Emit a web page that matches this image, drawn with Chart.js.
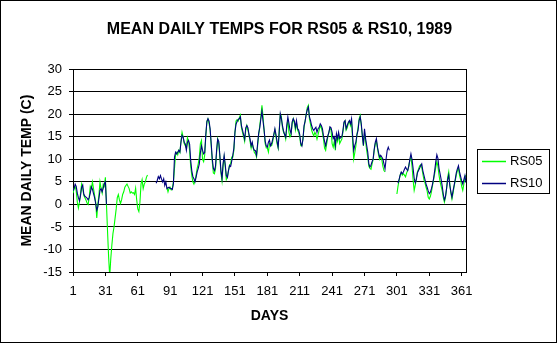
<!DOCTYPE html>
<html>
<head>
<meta charset="utf-8">
<script src="https://cdn.jsdelivr.net/npm/chart.js@4.4.1/dist/chart.umd.min.js"></script>
<style>
  html, body { margin: 0; padding: 0; background: #fff; }
  canvas { display: block; }
</style>
</head>
<body>
<canvas id="grafico-temps" width="559" height="345"></canvas>
<script>
const titulo = "MEAN DAILY TEMPS FOR RS05 & RS10, 1989";
const tituloY = "MEAN DAILY TEMP (C)";
const tituloX = "DAYS";
const ticksX = [1, 31, 61, 91, 121, 151, 181, 211, 241, 271, 301, 331, 361];

const dias = Array.from({ length: 365 }, (_, i) => i + 1);

// RS05, dias 1..365 (null = sem leitura)
const rs05 = [
    2.5, 3.5, 4.0, 3.0, 0.5, -0.8, 0.5, 2.5, 4.5, 3.5,
    2.0, 1.5, 1.0, 0.3, 0.0, 1.5, 4.0, 3.5, 5.0, 3.5,
    2.0, 0.5, -3.0, 0.0, 2.0, 5.0, 3.5, 2.5, 4.5, 4.0,
    6.0, 0.0, -6.0, -11.7, -16.0, -12.0, -9.0, -6.5, -5.0, -3.0,
    -1.0, 1.5, 2.2, 1.0, 0.2, 1.0, 2.2, 2.8, 3.8, 4.2,
    4.5, 4.0, 3.5, 2.5, 2.8, 2.5, 2.6, 2.2, 3.6, 1.0,
    -1.0, -1.6, 0.5, 4.5, 5.5, 3.5, 4.5, 5.0, 6.0, 6.5,
    null, null, null, null, null, null, null, null, null, null,
    null, null, null, null, null, null, null, 3.8, 2.8, 3.6,
    3.8, 3.2, 3.5, 5.0, 8.0, 11.0, 11.5, 11.0, 12.0, 11.5,
    14.0, 16.0, 15.0, 13.5, 13.0, 12.5, 14.8, 14.0, 12.0, 8.5,
    6.5, 5.0, 4.5, 5.2, 6.5, 8.0, 9.0, 10.5, 13.5, 14.2,
    10.0, 9.5, 11.0, 15.0, 18.5, 19.0, 18.0, 16.5, 13.0, 9.5,
    7.0, 6.8, 7.8, 11.5, 14.5, 13.5, 10.5, 7.0, 5.2, 8.5,
    10.5, 8.5, 5.5, 6.0, 7.5, 8.8, 9.0, 10.5, 10.5, 12.0,
    16.0, 18.5, 18.8, 18.5, 19.2, 19.8, 17.0, 16.0, 15.0, 14.0,
    16.5, 17.5, 16.5, 15.5, 14.0, 12.5, 13.5, 12.5, 11.5, 11.2,
    10.5, 13.0, 15.5, 17.5, 19.5, 22.0, 19.5, 16.5, 13.5, 12.5,
    12.5, 11.6, 13.5, 13.0, 13.0, 14.0, 15.5, 16.5, 15.0, 13.5,
    12.5, 16.5, 20.0, 19.5, 17.0, 16.0, 15.5, 14.5, 17.0, 19.0,
    16.0, 15.0, 15.5, 18.0, 19.0, 18.0, 16.5, 18.0, 16.5, 16.0,
    15.0, 13.0, 13.0, 14.5, 17.0, 18.5, 20.0, 21.5, 22.0, 19.0,
    17.8, 16.5, 15.8, 15.2, 16.0, 15.5, 14.5, 15.5, 16.5, 17.5,
    17.0, 16.0, 14.5, 12.5, 12.0, 13.5, 15.0, 16.0, 17.0, 16.5,
    13.5, 12.7, 14.0, 12.0, 15.0, 14.0, 15.5, 13.5, 14.0, 14.5,
    16.0, 18.0, 18.5, 16.5, 17.0, 18.0, 18.5, 17.5, 18.5, 14.0,
    10.1, 11.5, 13.0, 15.5, 17.0, 19.0, 19.7, 17.5, 15.0, 13.0,
    16.0, 14.0, 12.0, 10.5, 8.5, 8.0, 7.8, 9.0, 10.0, 12.0,
    13.5, 14.0, 12.5, 11.0, 10.0, 10.5, 10.0, 8.5, 7.5, 7.2,
    null, null, null, null, null, null, null, null, null, null,
    2.3, 4.0, 5.3, 6.5, 7.0, 6.5, 6.8, 6.5, 6.1, 7.0,
    7.5, 8.5, 9.8, 10.5, 8.5, 5.5, 3.1, 4.2, 5.8, 7.2,
    7.8, 8.5, 8.8, 8.2, 6.8, 5.5, 4.8, 3.8, 3.0, 1.6,
    1.2, 1.8, 2.8, 4.2, 5.5, 6.8, 8.2, 9.5, 8.5, 6.5,
    5.0, 4.0, 3.0, 1.5, 0.5, 1.5, 3.5, 6.0, 7.2, 4.5,
    2.5, 1.2, 2.5, 4.0, 5.2, 6.5, 7.5, 8.0, 6.5, 5.5,
    4.0, 3.1, 4.5, 6.0, 6.5
];

// RS10, dias 1..365 (null = sem leitura)
const rs10 = [
    3.0, 3.5, 4.5, 4.0, 2.5, 1.5, 0.8, 2.0, 3.8, 4.3,
    2.3, 1.8, 1.6, 1.4, 1.0, 1.5, 2.5, 3.9, 3.4, 2.4,
    1.5, 0.2, -1.3, -0.5, 1.3, 3.1, 3.5, 2.8, 3.6, 4.6,
    5.0, 0.0, null, null, null, null, null, null, null, null,
    null, null, null, null, null, null, null, null, null, null,
    null, null, null, null, null, null, null, null, null, null,
    null, null, null, null, null, null, null, null, null, null,
    null, null, null, null, null, null, null, 4.7, 5.3, 6.2,
    5.7, 6.4, 5.6, 5.0, 5.7, 4.2, 5.0, 3.5, 3.7, 3.8,
    3.5, 3.5, 3.3, 4.6, 10.5, 11.6, 11.2, 11.6, 12.0, 11.6,
    13.8, 15.3, 14.9, 13.8, 13.4, 12.0, 13.8, 14.2, 13.4, 9.8,
    7.5, 6.2, 5.7, 5.0, 6.0, 7.2, 8.0, 9.0, 11.5, 13.0,
    12.0, 11.2, 11.5, 15.5, 18.3, 19.0, 18.5, 16.8, 13.5, 10.1,
    8.0, 7.5, 8.5, 12.0, 14.5, 14.0, 11.0, 7.5, 5.8, 9.0,
    10.9, 8.8, 6.4, 6.0, 7.5, 8.6, 8.4, 9.6, 10.9, 12.5,
    16.0, 17.8, 18.4, 18.8, 19.0, 19.4, 17.5, 16.5, 15.5, 14.5,
    17.0, 17.5, 17.0, 15.5, 14.5, 13.0, 13.8, 12.5, 12.0, 11.9,
    10.9, 13.5, 15.8, 17.0, 19.0, 20.7, 18.5, 16.5, 14.0, 13.0,
    12.7, 13.8, 14.3, 13.0, 13.5, 14.5, 15.5, 16.8, 15.5, 14.0,
    12.7, 16.0, 20.1, 19.0, 17.5, 16.3, 15.5, 14.9, 17.5, 19.4,
    18.0, 16.5, 15.7, 18.3, 19.0, 18.5, 17.1, 18.6, 16.8, 16.5,
    15.5, 13.5, 13.0, 14.5, 17.5, 18.5, 20.0, 21.0, 21.6, 19.4,
    18.6, 17.5, 16.8, 16.4, 16.8, 17.1, 16.0, 16.8, 17.1, 17.9,
    17.5, 16.8, 15.2, 14.0, 13.0, 14.2, 15.2, 16.0, 17.2, 17.0,
    16.0, 14.6, 15.0, 13.1, 15.7, 14.6, 16.0, 14.6, 14.8, 15.0,
    16.4, 18.3, 18.6, 16.8, 17.5, 18.2, 18.6, 17.9, 19.0, 15.3,
    12.0, 13.1, 13.8, 15.5, 16.4, 18.6, 19.4, 17.9, 15.3, 13.1,
    16.8, 14.6, 13.1, 11.6, 9.0, 8.3, 8.7, 9.5, 10.1, 12.3,
    13.8, 14.6, 12.7, 11.5, 10.5, 10.9, 10.5, 10.1, 9.0, 7.9,
    10.1, 12.0, 12.7, 12.0, null, null, null, null, null, null,
    null, 4.7, 5.5, 6.5, 7.2, 6.8, 7.2, 7.8, 8.3, 7.8,
    7.5, 8.5, 10.0, 11.2, 10.0, 8.0, 5.8, 4.8, 5.5, 7.0,
    7.5, 8.0, 8.6, 9.0, 7.5, 6.5, 5.5, 4.5, 3.8, 3.0,
    2.4, 2.7, 3.5, 4.5, 5.8, 7.5, 9.5, 11.0, 10.2, 8.0,
    6.8, 5.5, 4.0, 2.2, 1.0, 1.8, 3.5, 5.5, 6.5, 4.2,
    2.8, 1.6, 3.0, 4.2, 5.5, 7.0, 7.9, 8.6, 7.2, 6.2,
    5.2, 4.5, 5.5, 6.4, 4.8
];

Chart.defaults.font.family = "'Liberation Sans', Arial, sans-serif";
Chart.defaults.color = "#000";

// moldura externa, borda da area de plotagem e legenda com caixa
const molduraELegenda = {
    id: "molduraELegenda",
    afterDraw(chart) {
        const ctx = chart.ctx;
        const area = chart.chartArea;
        ctx.save();
        ctx.strokeStyle = "#000";
        ctx.lineWidth = 1;
        ctx.strokeRect(0.5, 0.5, 556, 342);
        ctx.beginPath();
        ctx.moveTo(Math.round(area.right) + 0.5, Math.round(area.top));
        ctx.lineTo(Math.round(area.right) + 0.5, Math.round(area.bottom) + 1);
        ctx.stroke();

        const meio = Math.round((area.top + area.bottom) / 2);
        const caixaX = Math.round(area.right) + 11;
        ctx.strokeRect(caixaX + 0.5, meio - 22 + 0.5, 72, 44);
        ctx.font = "13px 'Liberation Sans', Arial, sans-serif";
        ctx.textBaseline = "middle";
        ctx.fillStyle = "#000";
        chart.data.datasets.forEach((ds, i) => {
            const y = meio - 10 + i * 21.5;
            ctx.strokeStyle = ds.borderColor;
            ctx.lineWidth = 1.5;
            ctx.beginPath();
            ctx.moveTo(caixaX + 5, Math.round(y) + 0.5);
            ctx.lineTo(caixaX + 29, Math.round(y) + 0.5);
            ctx.stroke();
            ctx.fillText(ds.label, caixaX + 33, y + 0.5);
        });
        ctx.restore();
    }
};

function criarGraficoTemps(canvasElement) {
    const ctx = canvasElement.getContext("2d");
    return new Chart(ctx, {
        type: "line",
        data: {
            datasets: [
                {
                    label: "RS05",
                    data: dias.map((d, i) => ({ x: d, y: rs05[i] })),
                    borderColor: "#00ff00",
                    borderWidth: 1.1,
                    pointRadius: 0,
                    tension: 0,
                    spanGaps: false,
                    order: 2
                },
                {
                    label: "RS10",
                    data: dias.map((d, i) => ({ x: d, y: rs10[i] })),
                    borderColor: "#000080",
                    borderWidth: 1.1,
                    pointRadius: 0,
                    tension: 0,
                    spanGaps: false,
                    order: 1
                }
            ]
        },
        options: {
            responsive: false,
            animation: false,
            events: [],
            layout: { padding: { left: 0, right: 0, top: 0, bottom: 8 } },
            plugins: {
                legend: { display: false },
                tooltip: { enabled: false },
                title: {
                    display: true,
                    text: titulo,
                    color: "#000",
                    font: { size: 16, weight: "bold" },
                    padding: { top: 20, bottom: 30 }
                }
            },
            scales: {
                x: {
                    type: "linear",
                    min: 1,
                    max: 365,
                    afterBuildTicks: (scale) => { scale.ticks = ticksX.map(v => ({ value: v })); },
                    afterFit: (scale) => { scale.height = 65; },
                    grid: { drawOnChartArea: false, color: "#000", tickLength: 4 },
                    border: { color: "#000" },
                    ticks: { color: "#000", font: { size: 13 }, padding: 8, maxRotation: 0, autoSkip: false },
                    title: {
                        display: true,
                        text: tituloX,
                        color: "#000",
                        font: { size: 14, weight: "bold" },
                        padding: { top: 0, bottom: 12 }
                    }
                },
                y: {
                    min: -15,
                    max: 30,
                    afterFit: (scale) => { scale.width = 73; },
                    grid: { color: "#000", tickLength: 4 },
                    border: { color: "#000" },
                    ticks: { stepSize: 5, color: "#000", font: { size: 13 }, padding: 7 },
                    title: {
                        display: true,
                        text: tituloY,
                        color: "#000",
                        font: { size: 14, weight: "bold" },
                        padding: { top: 19, bottom: 0 }
                    }
                },
                // eixo vazio que so reserva o espaco da legenda a direita
                espacoLegenda: {
                    type: "linear",
                    position: "right",
                    display: true,
                    afterFit: (scale) => { scale.width = 93; },
                    grid: { display: false },
                    border: { display: false },
                    ticks: { display: false }
                }
            }
        },
        plugins: [molduraELegenda]
    });
}

criarGraficoTemps(document.getElementById("grafico-temps"));
</script>
</body>
</html>
